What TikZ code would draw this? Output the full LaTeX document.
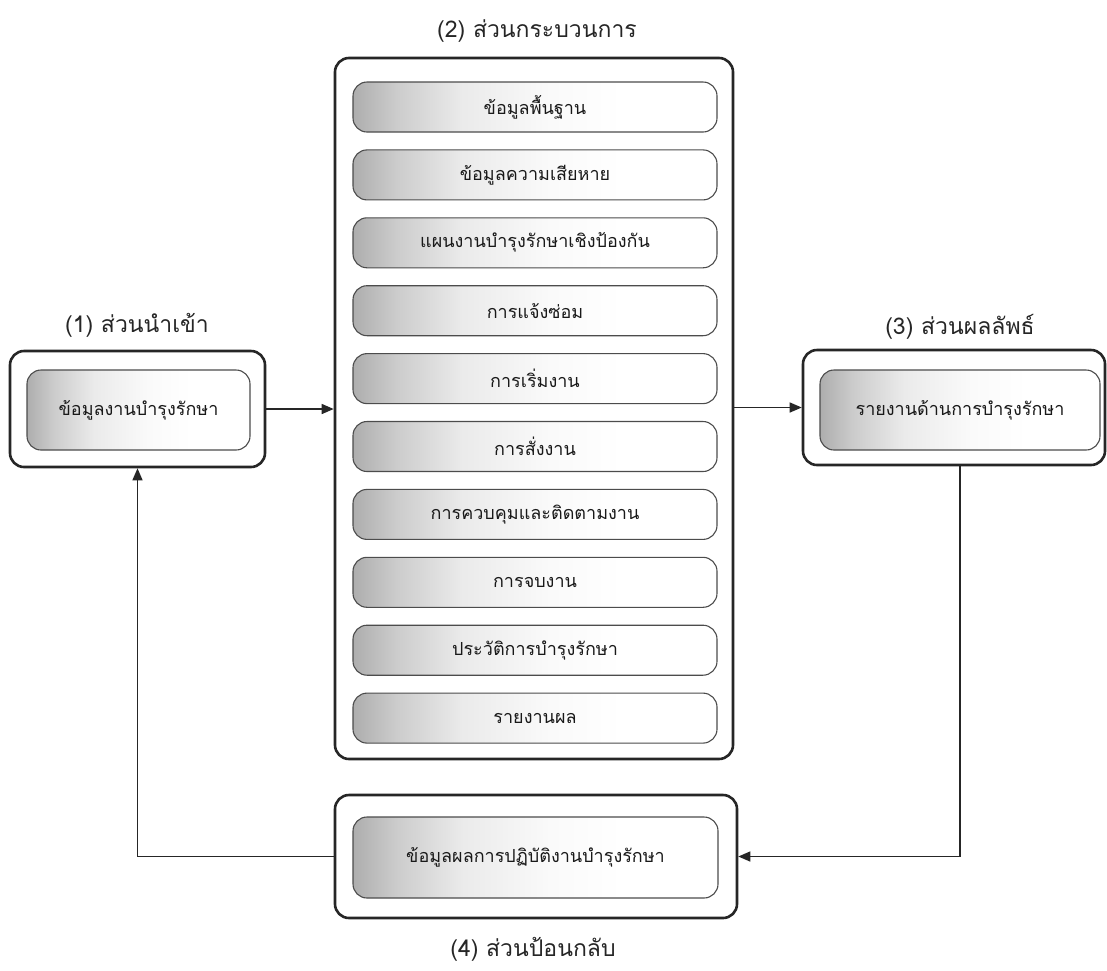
\documentclass[tikz,border=0pt]{standalone}
\usepackage{fontspec}
\newfontfamily\thaifont[Script=Thai]{Loma}
\usetikzlibrary{arrows.meta}
% left-to-right fade used inside every item box
\pgfdeclarehorizontalshading{itemfade}{100bp}{%
  color(0bp)=(black!32); color(25bp)=(black!32); color(31bp)=(black!20);
  color(40bp)=(black!8); color(52bp)=(black!2); color(62bp)=(white);
  color(100bp)=(white)}
\begin{document}
\begin{tikzpicture}[x=1pt,y=-1pt,
  groupbox/.style={draw=black!85,line width=2.6pt,rounded corners=14pt,
    rectangle,inner sep=0pt},
  itembox/.style={draw=black!70,line width=1.1pt,rounded corners=14pt,
    rectangle,inner sep=0pt,shading=itemfade,
    font=\thaifont\fontsize{18}{20}\selectfont,text=black!90},
  caption/.style={font=\thaifont\fontsize{23}{27}\selectfont,text=black!85},
  flow/.style={draw=black!85,line width=1.4pt,
    -{Triangle[length=12pt,width=10pt]}}]
\useasboundingbox (0,0) rectangle (1107,970);
\fill[white] (0,0) rectangle (1107,970);

% (2) process group
\node[groupbox,minimum width=398pt,minimum height=701pt] (mo) at (534,408.5) {};
\node[caption] (mcap) at (537,31) {(2) ส่วนกระบวนการ};
\foreach \t [count=\i from 0] in {ข้อมูลพื้นฐาน,ข้อมูลความเสียหาย,แผนงานบำรุงรักษาเชิงป้องกัน,%
  การแจ้งซ่อม,การเริ่มงาน,การสั่งงาน,การควบคุมและติดตามงาน,การจบงาน,%
  ประวัติการบำรุงรักษา,รายงานผล}{
  \node[itembox,minimum width=364pt,minimum height=50pt] (m\i)
    at (535,{107+67.9*\i}) {\t};
}

% (1) input group
\node[groupbox,minimum width=255pt,minimum height=116pt] (lo) at (137.5,409) {};
\node[itembox,minimum width=223pt,minimum height=80pt] (li) at (138.5,410) {ข้อมูลงานบำรุงรักษา};
\node[caption] (lcap) at (137,325) {(1) ส่วนนำเข้า};

% (3) output group
\node[groupbox,minimum width=302pt,minimum height=115pt] (ro) at (954,407.5) {};
\node[itembox,minimum width=280pt,minimum height=80pt] (ri) at (960,410) {รายงานด้านการบำรุงรักษา};
\node[caption] (rcap) at (960,327) {(3) ส่วนผลลัพธ์};

% (4) feedback group
\node[groupbox,minimum width=402pt,minimum height=123pt] (bo) at (536,856.5) {};
\node[itembox,minimum width=365pt,minimum height=81pt] (bi) at (535.5,857.5) {ข้อมูลผลการปฏิบัติงานบำรุงรักษา};
\node[caption] (bcap) at (533,949) {(4) ส่วนป้อนกลับ};

% connectors
\draw[flow] (lo.east) -- (lo.east -| mo.west);
\draw[flow] (ro.west -| mo.east) -- (ro.west);
\draw[flow] (ri.center |- ro.south) -- (ri.center |- bo.east) -- (bo.east);
\draw[flow] (bo.west) -- (lo.south |- bo.west) -- (lo.south);
\end{tikzpicture}
\end{document}
